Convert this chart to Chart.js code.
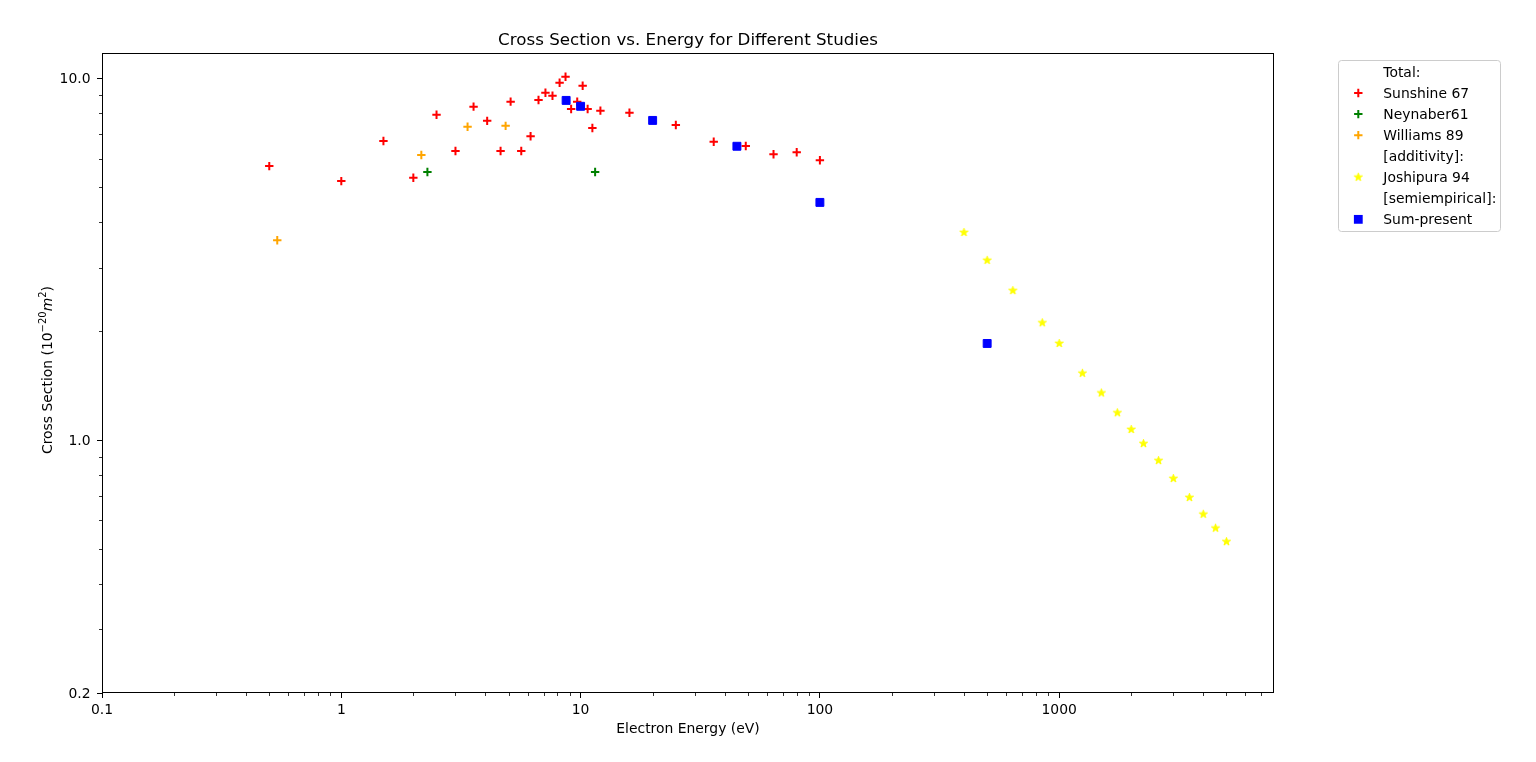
<!DOCTYPE html>
<html>
<head>
<meta charset="utf-8">
<script src="https://cdn.jsdelivr.net/npm/chart.js@4.4.1/dist/chart.umd.min.js"></script>
<style>
  html, body { margin: 0; padding: 0; background: #fff; }
  canvas { display: block; }
</style>
</head>
<body>
<canvas id="chart" width="1536" height="762"></canvas>
<script>
// ── DATA ──────────────────────────────────────────────────────
const sunshineEnergy = [0.5, 1, 1.5, 2, 2.5, 3, 3.57, 4.07, 4.63, 5.1, 5.65, 6.18, 6.67, 7.13, 7.63,
                        8.17, 8.65, 9.13, 9.68, 10.2, 10.7, 11.2, 12.1, 16, 25, 36, 49, 64, 80, 100];
const sunshineSigma  = [5.72, 5.20, 6.71, 5.31, 7.93, 6.30, 8.35, 7.63, 6.30, 8.62, 6.30, 6.92, 8.71, 9.12, 8.95,
                        9.72, 10.1, 8.23, 8.62, 9.54, 8.23, 7.29, 8.14, 8.03, 7.43, 6.68, 6.50, 6.17, 6.25, 5.94];

const neynaberEnergy = [2.29, 11.5];
const neynaberSigma  = [5.51, 5.51];

const williamsEnergy = [0.54, 2.16, 3.37, 4.86];
const williamsSigma  = [3.57, 6.14, 7.35, 7.39];

const joshipuraEnergy = [400, 500, 640, 850, 1000, 1250, 1500, 1750, 2000, 2250, 2600, 3000, 3500, 4000, 4500, 5000];
const joshipuraSigma  = [3.75, 3.14, 2.59, 2.11, 1.85, 1.53, 1.35, 1.19, 1.07, 0.978, 0.878, 0.783, 0.694, 0.624, 0.571, 0.524];

const sumEnergy = [8.7, 10, 20, 45, 100, 500];
const sumSigma  = [8.69, 8.37, 7.65, 6.49, 4.54, 1.85];

const xMajorTicks = [0.1, 1, 10, 100, 1000];
const xTickLabels = ['0.1', '1', '10', '100', '1000'];
const yMajorTicks = [0.2, 1, 10];
const yTickLabels = ['0.2', '1.0', '10.0'];

const legendRows = [
  { label: 'Total:',            marker: null },
  { label: 'Sunshine 67',       marker: 'cross',  color: '#ff0000' },
  { label: 'Neynaber61',        marker: 'cross',  color: '#008000' },
  { label: 'Williams 89',       marker: 'cross',  color: '#ffa500' },
  { label: '[additivity]:',     marker: null },
  { label: 'Joshipura 94',      marker: 'star',   color: '#ffff00' },
  { label: '[semiempirical]:',  marker: null },
  { label: 'Sum-present',       marker: 'square', color: '#0000ff' },
];

const FONT = "'DejaVu Sans', 'Liberation Sans', sans-serif";

// ── HELPERS ───────────────────────────────────────────────────
const pts = (xs, ys) => xs.map((x, i) => ({ x, y: ys[i] }));

function makeStar(color, r) {
  const size = Math.ceil(r * 2 + 4);
  const cv = document.createElement('canvas');
  cv.width = cv.height = size;
  const g = cv.getContext('2d');
  const c = size / 2;
  g.beginPath();
  for (let i = 0; i < 10; i++) {
    const rad = i % 2 ? r * 0.381966 : r;
    const a = -Math.PI / 2 + i * Math.PI / 5;
    g.lineTo(c + rad * Math.cos(a), c + rad * Math.sin(a));
  }
  g.closePath();
  g.fillStyle = color; g.fill();
  g.strokeStyle = color; g.lineWidth = 1; g.stroke();
  return cv;
}
const starImg = makeStar('#ffff00', 4.3);

function logTicks(min, max, majors) {
  const out = [];
  for (let k = Math.floor(Math.log10(min)); k <= Math.ceil(Math.log10(max)); k++) {
    for (let m = 1; m <= 9; m++) {
      const v = +(m * Math.pow(10, k)).toPrecision(6);
      if (v < min * 0.9999 || v > max * 1.0001) continue;
      out.push({ value: v, minor: !majors.includes(v) });
    }
  }
  return out;
}

function tickLabel(majors, labels) {
  return (val, i, ticks) => {
    if (ticks[i].minor) return '';
    const j = majors.indexOf(ticks[i].value);
    return j >= 0 ? labels[j] : '';
  };
}

const tickColor = c => (c.tick && c.tick.minor) ? 'rgba(0,0,0,0)' : '#000';

// ── DECORATION: frame, minor ticks, titles, legend ───────────
const decor = {
  id: 'decor',
  afterDraw(chart) {
    const { ctx, chartArea: a, scales } = chart;
    ctx.save();

    // frame
    ctx.strokeStyle = '#000';
    ctx.lineWidth = 1;
    ctx.strokeRect(a.left + 0.5, a.top + 0.5, a.right - a.left - 1, a.bottom - a.top - 1);

    // minor ticks
    ctx.lineWidth = 0.8;
    scales.x.ticks.forEach(t => {
      if (!t.minor) return;
      const px = Math.round(scales.x.getPixelForValue(t.value)) + 0.5;
      ctx.beginPath(); ctx.moveTo(px, a.bottom); ctx.lineTo(px, a.bottom + 3); ctx.stroke();
    });
    scales.y.ticks.forEach(t => {
      if (!t.minor) return;
      const py = Math.round(scales.y.getPixelForValue(t.value)) + 0.5;
      ctx.beginPath(); ctx.moveTo(a.left, py); ctx.lineTo(a.left - 3, py); ctx.stroke();
    });

    // title
    const cx = (a.left + a.right) / 2;
    ctx.fillStyle = '#000';
    ctx.textAlign = 'center';
    ctx.textBaseline = 'alphabetic';
    ctx.font = '16.7px ' + FONT;
    ctx.fillText('Cross Section vs. Energy for Different Studies', cx, 45);

    // x label
    ctx.font = '13.9px ' + FONT;
    ctx.fillText('Electron Energy (eV)', cx, 733);

    // y label with super-scripts
    const segs = [
      { t: 'Cross Section (10', f: '13.9px ' + FONT, dy: 0 },
      { t: '\u221220',          f: '10px ' + FONT,   dy: -5.5 },
      { t: 'm',                 f: 'italic 13.9px ' + FONT, dy: 0 },
      { t: '2',                 f: '10px ' + FONT,   dy: -5.5 },
      { t: ')',                 f: '13.9px ' + FONT, dy: 0 },
    ];
    let total = 0;
    segs.forEach(s => { ctx.font = s.f; s.w = ctx.measureText(s.t).width; total += s.w; });
    ctx.translate(51.5, 370);
    ctx.rotate(-Math.PI / 2);
    ctx.textAlign = 'left';
    let x0 = -total / 2;
    segs.forEach(s => { ctx.font = s.f; ctx.fillText(s.t, x0, s.dy); x0 += s.w; });
    ctx.setTransform(1, 0, 0, 1, 0, 0);

    // legend
    const lx = 1338.5, ly = 60.5, lw = 162, lh = 171;
    ctx.beginPath();
    ctx.roundRect(lx, ly, lw, lh, 3);
    ctx.fillStyle = 'rgba(255,255,255,0.8)';
    ctx.fill();
    ctx.strokeStyle = '#cccccc';
    ctx.lineWidth = 1;
    ctx.stroke();

    ctx.font = '13.9px ' + FONT;
    ctx.textAlign = 'left';
    ctx.textBaseline = 'middle';
    legendRows.forEach((r, i) => {
      const y = 72 + i * 21.05;
      const mx = 1358.3;
      if (r.marker === 'cross') {
        ctx.strokeStyle = r.color; ctx.lineWidth = 2;
        ctx.beginPath();
        ctx.moveTo(mx - 4.2, y); ctx.lineTo(mx + 4.2, y);
        ctx.moveTo(mx, y - 4.2); ctx.lineTo(mx, y + 4.2);
        ctx.stroke();
      } else if (r.marker === 'star') {
        ctx.drawImage(starImg, mx - starImg.width / 2, y - starImg.height / 2);
      } else if (r.marker === 'square') {
        ctx.fillStyle = r.color;
        ctx.fillRect(mx - 4.4, y - 4.4, 8.8, 8.8);
      }
      ctx.fillStyle = '#000';
      ctx.fillText(r.label, 1383.3, y + 1);
    });

    ctx.restore();
  }
};

// ── CHART ─────────────────────────────────────────────────────
new Chart(document.getElementById('chart').getContext('2d'), {
  type: 'scatter',
  data: {
    datasets: [
      { label: 'Sunshine 67', data: pts(sunshineEnergy, sunshineSigma), order: 5,
        pointStyle: 'cross', pointRadius: 4.2, pointBorderWidth: 2,
        borderColor: '#ff0000', backgroundColor: '#ff0000' },
      { label: 'Neynaber61', data: pts(neynaberEnergy, neynaberSigma), order: 4,
        pointStyle: 'cross', pointRadius: 4.2, pointBorderWidth: 2,
        borderColor: '#008000', backgroundColor: '#008000' },
      { label: 'Williams 89', data: pts(williamsEnergy, williamsSigma), order: 3,
        pointStyle: 'cross', pointRadius: 4.2, pointBorderWidth: 2,
        borderColor: '#ffa500', backgroundColor: '#ffa500' },
      { label: 'Joshipura 94', data: pts(joshipuraEnergy, joshipuraSigma), order: 2,
        pointStyle: starImg, pointRadius: 5,
        borderColor: '#ffff00', backgroundColor: '#ffff00' },
      { label: 'Sum-present', data: pts(sumEnergy, sumSigma), order: 1,
        pointStyle: 'rect', pointRadius: 5.6, pointBorderWidth: 1,
        borderColor: '#0000ff', backgroundColor: '#0000ff' },
    ],
  },
  options: {
    responsive: false,
    animation: false,
    events: [],
    layout: { padding: { left: 0, top: 53, right: 262, bottom: 0 } },
    plugins: {
      legend:  { display: false },
      title:   { display: false },
      tooltip: { enabled: false },
    },
    scales: {
      x: {
        type: 'logarithmic', min: 0.1, max: 7900,
        afterBuildTicks: s => { s.ticks = logTicks(0.1, 7900, xMajorTicks); },
        afterFit: s => { s.height = 69; },
        border: { display: false },
        grid: { drawOnChartArea: false, tickLength: 5, tickWidth: 1, tickColor },
        ticks: { autoSkip: false, maxRotation: 0, padding: 4, color: '#000',
                 font: { family: FONT, size: 13.9 }, callback: tickLabel(xMajorTicks, xTickLabels) },
      },
      y: {
        type: 'logarithmic', min: 0.2, max: 11.75,
        afterBuildTicks: s => { s.ticks = logTicks(0.2, 11.75, yMajorTicks); },
        afterFit: s => { s.width = 102; },
        border: { display: false },
        grid: { drawOnChartArea: false, tickLength: 5, tickWidth: 1, tickColor },
        ticks: { autoSkip: false, padding: 6.5, labelOffset: 1.5, color: '#000',
                 font: { family: FONT, size: 13.9 }, callback: tickLabel(yMajorTicks, yTickLabels) },
      },
    },
  },
  plugins: [decor],
});
</script>
</body>
</html>
